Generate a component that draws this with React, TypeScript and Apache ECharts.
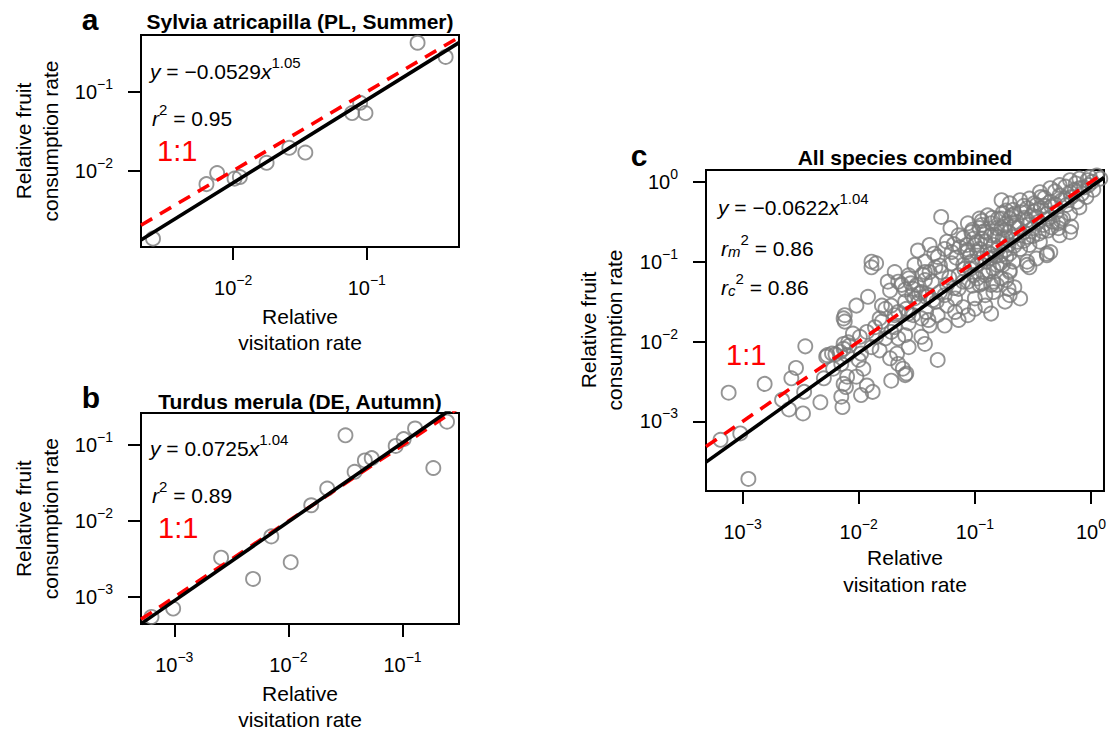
import React, { useEffect, useRef } from 'react';
import * as echarts from 'echarts';

const FONT = "'Liberation Sans', Arial, Helvetica, sans-serif";

// ---------- data: [log10 relative visitation rate, log10 relative fruit consumption rate] ----------
const sylviaLog10: [number, number][] = [
  [-0.62, -0.38], [-0.41, -0.56], [-1.05, -1.14], [-1.11, -1.27], [-1.01, -1.27],
  [-1.58, -1.71], [-1.46, -1.77], [-1.75, -1.90], [-2.12, -2.03], [-2.20, -2.17],
  [-1.99, -2.10], [-1.95, -2.08], [-2.60, -2.86],
];

const turdusLog10: [number, number][] = [
  [-0.61, -0.69], [-0.89, -0.78], [-0.99, -0.92], [-1.06, -1.01], [-1.50, -0.87],
  [-0.73, -1.30], [-1.27, -1.17], [-1.33, -1.20], [-1.42, -1.35], [-1.66, -1.57],
  [-1.80, -1.79], [-2.15, -2.20], [-1.98, -2.54], [-2.59, -2.48], [-2.31, -2.76],
  [-3.01, -3.15], [-3.20, -3.26],
];

const allSpeciesLog10: [number, number][] = [
  [-2.46, -2.06], [-2.27, -2.17], [-2.20, -2.16], [-2.13, -2.09], [-2.08, -2.05], [-2.15, -2.28],
  [-2.54, -2.33], [-2.58, -2.46], [-2.81, -2.53], [-3.12, -2.64], [-2.30, -2.46], [-2.11, -2.57],
  [-2.47, -2.63], [-2.66, -2.73], [-2.60, -2.85], [-2.48, -2.90], [-2.33, -2.76], [-2.15, -2.69],
  [-2.14, -2.82], [-3.19, -3.23], [-3.02, -3.15], [-2.95, -3.72], [-1.98, -2.67], [-2.13, -2.53],
  [-2.10, -2.44],
  [-1.89, -1.07], [-1.66, -1.25], [-1.57, -1.21], [-1.50, -1.29], [-1.43, -1.23], [-1.39, -1.13],
  [-1.46, -1.38], [-1.42, -1.44], [-1.52, -1.46], [-1.92, -1.44], [-2.02, -1.55], [-2.12, -1.67],
  [-2.13, -1.71], [-1.73, -1.36], [-1.72, -1.55], [-1.77, -1.59], [-1.66, -1.63], [-1.59, -1.59],
  [-1.53, -1.67], [-1.46, -1.71], [-1.42, -1.63], [-1.39, -1.80], [-1.82, -1.71], [-1.86, -1.82],
  [-1.93, -1.88], [-1.99, -1.94], [-2.05, -1.90], [-2.09, -2.01], [-2.13, -2.03], [-2.16, -2.13],
  [-2.23, -2.15], [-2.28, -2.19], [-1.85, -1.94], [-1.89, -2.07], [-1.82, -2.11], [-1.98, -2.15],
  [-2.00, -2.23], [-2.10, -2.17], [-1.72, -1.88], [-1.66, -1.96], [-1.60, -1.92], [-1.57, -2.07],
  [-1.43, -2.03], [-1.73, -2.21], [-1.67, -2.15], [-1.66, -2.28], [-1.62, -2.34], [-1.60, -2.42],
  [-1.72, -2.49], [-2.22, -2.34], [-1.96, -2.34], [-2.02, -2.44], [-1.93, -2.55], [-1.88, -2.63],
  [-1.32, -2.23], [-1.59, -2.40], [-2.12, -1.75],
  [-0.77, -0.23], [-1.29, -0.44], [-1.06, -0.52], [-0.89, -0.42], [-0.80, -0.46], [-0.73, -0.36],
  [-0.68, -0.42], [-1.49, -0.86], [-1.39, -0.79], [-1.24, -0.75], [-1.13, -0.82], [-1.07, -0.88],
  [-1.00, -0.79], [-0.94, -0.71], [-0.86, -0.67], [-0.77, -0.58], [-0.73, -0.71], [-1.85, -1.02],
  [-1.57, -1.17], [-1.43, -1.13], [-1.34, -1.07], [-1.29, -1.13], [-1.20, -1.02], [-1.14, -1.17],
  [-1.09, -1.09], [-1.03, -1.00], [-0.94, -0.96], [-0.87, -0.90], [-0.81, -1.04], [-0.73, -0.94],
  [-0.70, -1.11], [-1.63, -1.29], [-1.53, -1.34], [-1.37, -1.25], [-1.30, -1.38], [-1.24, -1.29],
  [-1.14, -1.34], [-1.06, -1.25], [-0.98, -1.21], [-0.91, -1.17], [-0.86, -1.29], [-0.77, -1.21],
  [-0.71, -1.34], [-1.80, -1.55], [-1.60, -1.50], [-1.49, -1.52], [-1.40, -1.42], [-1.33, -1.50],
  [-1.24, -1.55], [-1.17, -1.46], [-1.10, -1.57], [-1.00, -1.46], [-0.91, -1.42], [-0.86, -1.65],
  [-1.80, -1.75], [-1.69, -1.82], [-1.57, -1.77], [-1.40, -1.73], [-1.32, -1.67], [-1.26, -1.80],
  [-1.14, -1.73], [-1.06, -1.67], [-1.46, -1.94], [-1.77, -1.96],
  [-1.20, -0.88], [-1.32, -0.94], [-1.43, -1.00], [-1.52, -1.04], [-1.69, -1.13], [-1.75, -1.25],
  [-1.54, -1.42], [-1.14, -0.67], [-1.03, -0.63], [-0.94, -0.54], [-1.21, -0.58], [-1.69, -1.67],
  [-1.57, -1.65], [-1.17, -1.63], [-1.00, -1.59], [-0.91, -1.55], [-0.74, -1.50], [-0.70, -1.42],
  [-1.89, -1.00], [-0.61, -1.46], [-0.66, -1.32], [-0.84, -1.38], [-0.53, -1.07], [-0.38, -0.92],
  [-0.18, -0.63],
  [-0.18, 0.02], [-0.10, 0.04], [-0.01, 0.06], [0.05, 0.08], [-0.27, -0.04], [-0.35, -0.08],
  [-0.44, -0.13], [-0.70, -0.27], [-0.61, -0.23], [-0.53, -0.21], [-0.43, -0.19], [-0.96, -0.46],
  [-0.66, -0.40], [-0.55, -0.33], [-0.47, -0.29], [-0.35, -0.25], [-0.27, -0.17], [-0.18, -0.13],
  [-0.10, -0.08], [-0.02, -0.04], [-1.01, -0.71], [-0.90, -0.63], [-0.81, -0.58], [-0.73, -0.52],
  [-0.64, -0.50], [-0.55, -0.48], [-0.47, -0.44], [-0.38, -0.40], [-0.30, -0.38], [-0.21, -0.29],
  [-0.12, -0.25], [-0.04, -0.19], [0.02, -0.10], [-1.04, -0.92], [-0.96, -0.84], [-0.84, -0.79],
  [-0.76, -0.71], [-0.67, -0.69], [-0.58, -0.63], [-0.50, -0.58], [-0.41, -0.54], [-0.33, -0.50],
  [-0.24, -0.46], [-0.17, -0.56], [-1.10, -1.04], [-0.98, -1.04], [-0.87, -0.96], [-0.78, -0.92],
  [-0.70, -0.90], [-0.61, -0.84], [-0.53, -0.79], [-0.44, -0.75], [-0.35, -0.88], [-0.27, -0.67],
  [-1.01, -1.17], [-0.84, -1.09], [-0.76, -1.04], [-0.67, -1.00], [-0.55, -1.00], [-0.47, -0.96],
  [-0.38, -0.90], [-0.96, -1.29], [-0.84, -1.25], [-0.73, -1.23],
  [-0.70, -0.46], [-0.60, -0.38], [-0.51, -0.42], [-0.43, -0.33], [-0.34, -0.31], [-0.25, -0.23],
  [-0.17, -0.19], [-0.08, -0.15], [0.01, 0.00], [0.08, 0.04], [-0.96, -0.58], [-0.86, -0.52],
  [-0.77, -0.46], [-0.91, -0.75], [-0.80, -0.69], [-0.71, -0.63], [-0.63, -0.58], [-0.54, -0.54],
  [-0.45, -0.50], [-0.37, -0.46], [-0.28, -0.52], [-1.07, -0.79], [-0.98, -0.75], [-0.89, -0.88],
  [-0.80, -0.84], [-0.71, -0.79], [-0.63, -0.75], [-0.54, -0.69], [-0.45, -0.65], [-0.37, -0.61],
  [-0.28, -0.58], [-0.55, -1.04], [-0.81, -1.29], [-0.70, -1.13], [-0.93, -1.13], [-1.04, -1.09],
  [-0.92, -0.62], [-0.83, -0.66], [-0.74, -0.60], [-0.66, -0.55], [-0.57, -0.45], [-0.49, -0.37],
  [-0.40, -0.30], [-0.31, -0.28], [-0.22, -0.21], [-0.14, -0.10], [-0.06, -0.07], [-0.03, 0.02],
  [-0.13, -0.02], [-0.22, -0.06], [-0.31, -0.12], [-0.40, -0.20], [-0.49, -0.27], [-0.58, -0.30],
  [-0.67, -0.35], [-0.76, -0.39], [-0.85, -0.45], [-0.94, -0.49], [-1.02, -0.60], [-1.10, -0.70],
  [-1.18, -0.78], [-1.26, -0.84], [-1.35, -0.90], [-1.16, -0.95], [-1.06, -0.85], [-0.98, -0.88],
  [-0.90, -1.00], [-0.82, -0.93], [-0.74, -0.85], [-0.66, -0.80], [-0.58, -0.74], [-0.50, -0.68],
  [-0.42, -0.62], [-0.34, -0.57], [-0.26, -0.48], [-0.18, -0.40], [-0.10, -0.32], [-1.22, -1.20],
  [-1.30, -1.05], [-1.45, -1.16], [-1.60, -1.35], [-1.55, -1.27], [-1.48, -1.40], [-1.36, -1.48],
  [-1.26, -1.42], [-1.18, -1.33], [-1.10, -1.25], [-1.02, -1.30], [-0.94, -1.27], [-0.88, -1.12],
  [-0.78, -1.02],
];

// fitted power laws: log10(y) = intercept + slope * log10(x)
const sylviaFit = { intercept: -0.0529, slope: 1.05 };
const turdusFit = { intercept: 0.0725, slope: 1.04 };
const allSpeciesFit = { intercept: -0.0622, slope: 1.04 };

// axis ranges (log10) and tick values
const sylviaXRange = [-2.69, -0.31];
const sylviaYRange = [-2.966, -0.282];
const turdusXRange = [-3.292, -0.505];
const turdusYRange = [-3.353, -0.576];
const allXRange = [-3.315, 0.112];
const allYRange = [-3.871, 0.148];

const sylviaTicks = [0.01, 0.1];
const turdusTicks = [0.001, 0.01, 0.1];
const allTicks = [0.001, 0.01, 0.1, 1];

const panels = [
  { grid: { left: 141, top: 35, width: 318, height: 212 }, xr: sylviaXRange, yr: sylviaYRange, xt: sylviaTicks, yt: sylviaTicks, pts: sylviaLog10, fit: sylviaFit },
  { grid: { left: 141, top: 413, width: 318, height: 211 }, xr: turdusXRange, yr: turdusYRange, xt: turdusTicks, yt: turdusTicks, pts: turdusLog10, fit: turdusFit },
  { grid: { left: 706, top: 170, width: 398, height: 321 }, xr: allXRange, yr: allYRange, xt: allTicks, yt: allTicks, pts: allSpeciesLog10, fit: allSpeciesFit },
];

const powLabel = (v: number) => {
  const e = Math.round(Math.log10(v));
  return `{b|10}{s|${e < 0 ? '\u2212' + -e : e}}`;
};

const tickRich = {
  b: { fontFamily: FONT, fontSize: 20, color: '#000', lineHeight: 22, verticalAlign: 'middle' },
  s: { fontFamily: FONT, fontSize: 14, color: '#000', lineHeight: 10, verticalAlign: 'middle', padding: [0, 0, 16, 0] },
};

const annRich = {
  i: { fontFamily: FONT, fontSize: 21, fontStyle: 'italic', fill: '#000', color: '#000', lineHeight: 34, verticalAlign: 'middle' },
  n: { fontFamily: FONT, fontSize: 21, fill: '#000', color: '#000', lineHeight: 34, verticalAlign: 'middle' },
  s: { fontFamily: FONT, fontSize: 15, fill: '#000', color: '#000', lineHeight: 10, verticalAlign: 'middle', padding: [0, 0, 18, 0] },
  u: { fontFamily: FONT, fontSize: 15, fontStyle: 'italic', fill: '#000', color: '#000', lineHeight: 10, verticalAlign: 'middle', padding: [6, 0, 0, 0] },
};

const txt = (x: number, y: number, text: string, style: any = {}, extra: any = {}) => ({
  type: 'text',
  x,
  y,
  silent: true,
  ...extra,
  style: { text, fontFamily: FONT, fontSize: 21, fill: '#000', align: 'left', verticalAlign: 'middle', ...style },
});

function buildOption() {
  const xAxis: any[] = [];
  const yAxis: any[] = [];
  const series: any[] = [];
  panels.forEach((p, i) => {
    const common = {
      type: 'log',
      logBase: 10,
      gridIndex: i,
      axisLine: { show: false },
      splitLine: { show: false },
      minorTick: { show: false },
      minorSplitLine: { show: false },
    };
    xAxis.push({
      ...common,
      min: Math.pow(10, p.xr[0]),
      max: Math.pow(10, p.xr[1]),
      axisTick: { show: true, length: 13, customValues: p.xt, lineStyle: { color: '#000', width: 2 } },
      axisLabel: { show: true, customValues: p.xt, margin: 30, formatter: powLabel, rich: tickRich },
    });
    yAxis.push({
      ...common,
      min: Math.pow(10, p.yr[0]),
      max: Math.pow(10, p.yr[1]),
      axisTick: { show: true, length: 13, customValues: p.yt, lineStyle: { color: '#000', width: 2 } },
      axisLabel: { show: true, customValues: p.yt, margin: 28, formatter: powLabel, rich: tickRich },
    });
    series.push({
      type: 'scatter',
      xAxisIndex: i,
      yAxisIndex: i,
      symbol: 'circle',
      symbolSize: 14,
      itemStyle: { color: 'rgba(0,0,0,0)', borderColor: '#7a7a7a', borderWidth: 1.9 },
      data: p.pts.map(([lx, ly]) => [Math.pow(10, lx), Math.pow(10, ly)]),
      silent: true,
    });
    const x0 = p.xr[0];
    const x1 = p.xr[1];
    series.push({
      type: 'line',
      xAxisIndex: i,
      yAxisIndex: i,
      symbol: 'none',
      silent: true,
      clip: true,
      lineStyle: { color: '#ff0000', width: 3.6, type: [13, 9], cap: 'butt' },
      data: [
        [Math.pow(10, x0), Math.pow(10, x0)],
        [Math.pow(10, x1), Math.pow(10, x1)],
      ],
    });
    series.push({
      type: 'line',
      xAxisIndex: i,
      yAxisIndex: i,
      symbol: 'none',
      silent: true,
      clip: true,
      lineStyle: { color: '#000', width: 3.6 },
      data: [
        [Math.pow(10, x0), Math.pow(10, p.fit.intercept + p.fit.slope * x0)],
        [Math.pow(10, x1), Math.pow(10, p.fit.intercept + p.fit.slope * x1)],
      ],
    });
  });

  const graphic: any[] = [
    // panel letters
    txt(90, 19.5, 'a', { fontSize: 30, fontWeight: 'bold', align: 'center' }),
    txt(91, 397.5, 'b', { fontSize: 30, fontWeight: 'bold', align: 'center' }),
    txt(639, 155.5, 'c', { fontSize: 30, fontWeight: 'bold', align: 'center' }),
    // titles
    txt(300, 21, 'Sylvia atricapilla (PL, Summer)', { fontWeight: 'bold', align: 'center' }),
    txt(300, 401, 'Turdus merula (DE, Autumn)', { fontWeight: 'bold', align: 'center' }),
    txt(905, 157, 'All species combined', { fontWeight: 'bold', align: 'center' }),
    // x axis titles
    txt(300, 329.3, 'Relative\nvisitation rate', { align: 'center', lineHeight: 26.6 }),
    txt(300, 706.3, 'Relative\nvisitation rate', { align: 'center', lineHeight: 26.6 }),
    txt(905, 571, 'Relative\nvisitation rate', { align: 'center', lineHeight: 26.6 }),
    // y axis titles
    txt(36.8, 141, 'Relative fruit\nconsumption rate', { align: 'center', lineHeight: 26.5 }, { rotation: Math.PI / 2 }),
    txt(36.8, 518.7, 'Relative fruit\nconsumption rate', { align: 'center', lineHeight: 26.5 }, { rotation: Math.PI / 2 }),
    txt(601.3, 330, 'Relative fruit\nconsumption rate', { align: 'center', lineHeight: 26.5 }, { rotation: Math.PI / 2 }),
    // annotations panel a
    txt(150, 71.7, '{i|y}{n| = \u22120.0529}{i|x}{s|1.05}', { rich: annRich }),
    txt(152, 118.3, '{i|r}{s|2}{n| = 0.95}', { rich: annRich }),
    txt(157, 150.7, '1:1', { fontSize: 29, fill: '#ff0000' }),
    // annotations panel b
    txt(150, 448.3, '{i|y}{n| = 0.0725}{i|x}{s|1.04}', { rich: annRich }),
    txt(152, 495, '{i|r}{s|2}{n| = 0.89}', { rich: annRich }),
    txt(158, 527.7, '1:1', { fontSize: 29, fill: '#ff0000' }),
    // annotations panel c
    txt(718, 207.7, '{i|y}{n| = \u22120.0622}{i|x}{s|1.04}', { rich: annRich }),
    txt(721, 248.3, '{i|r}{u|m}{s|2}{n| = 0.86}', { rich: annRich }),
    txt(721, 287.7, '{i|r}{u|c}{s|2}{n| = 0.86}', { rich: annRich }),
    txt(726, 355, '1:1', { fontSize: 29, fill: '#ff0000' }),
  ];

  return {
    animation: false,
    backgroundColor: '#fff',
    grid: panels.map((p) => ({
      ...p.grid,
      show: true,
      borderColor: '#000',
      borderWidth: 2,
      backgroundColor: 'transparent',
      containLabel: false,
    })),
    xAxis,
    yAxis,
    series,
    graphic,
  };
}

export default function App() {
  const ref = useRef<HTMLDivElement>(null);
  useEffect(() => {
    document.body.style.margin = '0';
    const chart = echarts.init(ref.current!, null, { renderer: 'svg' });
    chart.setOption(buildOption() as any);
    return () => chart.dispose();
  }, []);
  return <div ref={ref} style={{ width: 1109, height: 732 }} />;
}
